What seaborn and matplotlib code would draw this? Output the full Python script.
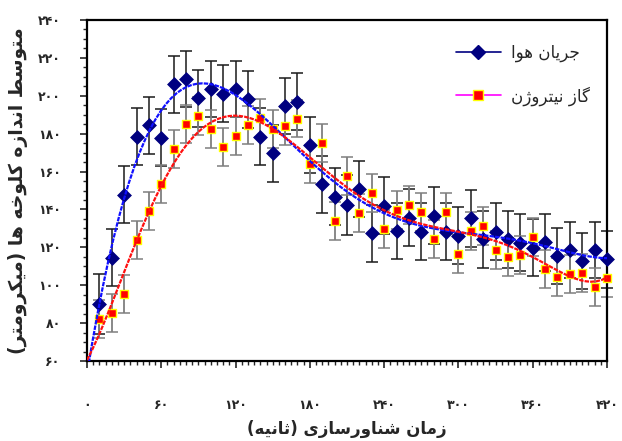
import matplotlib
matplotlib.use("Agg")
import matplotlib.pyplot as plt
from matplotlib.lines import Line2D
from matplotlib.ticker import MultipleLocator, FuncFormatter
import seaborn as sns

# ----------------------------------------------------------------------
# Data
# ----------------------------------------------------------------------
TIME = [10, 20, 30, 40, 50, 60, 70, 80, 90, 100, 110, 120, 130, 140,
        150, 160, 170, 180, 190, 200, 210, 220, 230, 240, 250, 260, 270, 280,
        290, 300, 310, 320, 330, 340, 350, 360, 370, 380, 390, 400, 410, 420]

AIR = [90, 114.5, 147.8, 178.4, 184.4, 177.9, 206.1, 208.9, 198.7, 203.6,
       201, 203.6, 198.1, 178.4, 169.6, 194.6, 196.9, 174, 153.3, 146.8,
       142.4, 150.8, 127.4, 142, 128.6, 135.7, 128.3, 136.6, 128.3, 126.2,
       135.3, 124.2, 128.3, 124.2, 122.5, 119.8, 122.6, 115.4, 118.6, 112.8,
       118.6, 113.7]
AIR_ERR = [16, 15, 15, 15, 15, 15, 15, 15, 15, 15, 15, 15, 15, 15,
           15, 15, 15, 15, 15, 15, 16, 15, 15, 15, 15, 15, 15, 15,
           15, 15, 15, 15, 15, 15, 15, 15, 15, 15, 15, 15, 15, 15]

N2 = [82, 85.5, 95.4, 123.7, 139.2, 153.5, 172.1, 185, 189.4, 182.3,
      172.8, 178.8, 184.4, 188.4, 182.6, 184.2, 188, 164, 175.3, 134.1,
      157.8, 138, 148.5, 129.7, 139.7, 142.2, 138.7, 124.6, 138.8, 116.3,
      128.6, 131.3, 118.6, 115, 116, 125.6, 108.6, 104.5, 105.8, 106.6,
      99.2, 104]
N2_ERR = [10, 10, 10, 10, 10, 10, 10, 10, 10, 10, 10, 10, 10, 10,
          10, 10, 10, 10, 10, 10, 10, 10, 10, 10, 10, 10, 10, 10,
          10, 10, 10, 10, 10, 10, 10, 10, 10, 10, 10, 10, 10, 10]

LABEL_AIR = "جریان هوا"
LABEL_N2 = "گاز نیتروژن"
XLABEL = "زمان شناورسازی (ثانیه)"
YLABEL = "متوسط اندازه کلوخه ها (میکرومتر)"

# ----------------------------------------------------------------------
# Minimal Persian shaping (matplotlib has no RTL / contextual forms)
# forms: isolated, final, initial, medial
# ----------------------------------------------------------------------
FORMS = {
    "ا": ("\uFE8D", "\uFE8E"),
    "د": ("\uFEA9", "\uFEAA"),
    "ر": ("\uFEAD", "\uFEAE"),
    "ز": ("\uFEAF", "\uFEB0"),
    "ژ": ("\uFB8A", "\uFB8B"),
    "و": ("\uFEED", "\uFEEE"),
    "ت": ("\uFE95", "\uFE96", "\uFE97", "\uFE98"),
    "ث": ("\uFE99", "\uFE9A", "\uFE9B", "\uFE9C"),
    "ج": ("\uFE9D", "\uFE9E", "\uFE9F", "\uFEA0"),
    "خ": ("\uFEA5", "\uFEA6", "\uFEA7", "\uFEA8"),
    "س": ("\uFEB1", "\uFEB2", "\uFEB3", "\uFEB4"),
    "ش": ("\uFEB5", "\uFEB6", "\uFEB7", "\uFEB8"),
    "ط": ("\uFEC1", "\uFEC2", "\uFEC3", "\uFEC4"),
    "ل": ("\uFEDD", "\uFEDE", "\uFEDF", "\uFEE0"),
    "م": ("\uFEE1", "\uFEE2", "\uFEE3", "\uFEE4"),
    "ن": ("\uFEE5", "\uFEE6", "\uFEE7", "\uFEE8"),
    "ه": ("\uFEE9", "\uFEEA", "\uFEEB", "\uFEEC"),
    "ک": ("\uFB8E", "\uFB8F", "\uFB90", "\uFB91"),
    "گ": ("\uFB92", "\uFB93", "\uFB94", "\uFB95"),
    "ی": ("\uFBFC", "\uFBFD", "\uFBFE", "\uFBFF"),
}
DUAL = {k for k, v in FORMS.items() if len(v) == 4}


def farsi(text):
    out = []
    for i, ch in enumerate(text):
        if ch not in FORMS:
            out.append(ch)
            continue
        prev = i > 0 and text[i - 1] in DUAL
        nxt = ch in DUAL and i + 1 < len(text) and text[i + 1] in FORMS
        f = FORMS[ch]
        if prev and nxt:
            out.append(f[3])
        elif prev:
            out.append(f[1])
        elif nxt:
            out.append(f[2])
        else:
            out.append(f[0])
    vis = "".join(reversed(out))
    return vis.translate(str.maketrans("()", ")("))


FA_DIGITS = str.maketrans("0123456789", "۰۱۲۳۴۵۶۷۸۹")
fa_fmt = FuncFormatter(lambda v, pos: f"{v:.0f}".translate(FA_DIGITS))

# ----------------------------------------------------------------------
# Plot
# ----------------------------------------------------------------------
sns.set_style("ticks")
plt.rcParams["font.family"] = ["DejaVu Sans"]

fig = plt.figure(figsize=(6.22, 4.41), dpi=100)
ax = fig.add_axes([0.1399, 0.1814, 0.836, 0.7732])
ax.set_xlim(0, 420)
ax.set_ylim(60, 240)

ax.errorbar(TIME, AIR, yerr=AIR_ERR, fmt="none", ecolor="#1a1a1a",
            elinewidth=1.1, capsize=4, capthick=1.1, zorder=2, clip_on=False)
ax.errorbar(TIME, N2, yerr=N2_ERR, fmt="none", ecolor="#7f7f7f",
            elinewidth=1.3, capsize=4, capthick=1.1, zorder=2, clip_on=False)

sns.scatterplot(x=TIME, y=AIR, marker="D", s=50, color="#000080",
                edgecolor="#000080", linewidth=0.5, ax=ax, zorder=3, clip_on=False)
sns.scatterplot(x=TIME, y=N2, marker="s", s=36, color="#ff0000",
                edgecolor="#ffff00", linewidth=1.0, ax=ax, zorder=4, clip_on=False)

# polynomial trend lines over the full axis range
sns.regplot(x=TIME, y=AIR, order=6, ci=None, scatter=False, truncate=False, ax=ax,
            line_kws=dict(color="#1010ff", lw=1.6, ls=(0, (2.0, 0.5)), zorder=5))
sns.regplot(x=TIME, y=N2, order=6, ci=None, scatter=False, truncate=False, ax=ax,
            line_kws=dict(color="#ff1010", lw=1.6, ls=(0, (2.0, 0.5)), zorder=5))
ax.set_xlim(0, 420)
ax.set_ylim(60, 240)

ax.xaxis.set_major_locator(MultipleLocator(60))
ax.xaxis.set_minor_locator(MultipleLocator(5))
ax.yaxis.set_major_locator(MultipleLocator(20))
ax.yaxis.set_minor_locator(MultipleLocator(5))
ax.xaxis.set_major_formatter(fa_fmt)
ax.yaxis.set_major_formatter(fa_fmt)
ax.tick_params(which="major", direction="out", length=5, width=1.2, labelsize=9)
ax.tick_params(which="minor", direction="out", length=3, width=1)
ax.tick_params(axis="x", pad=22)
ax.tick_params(axis="y", pad=14)
for lab in ax.get_xticklabels() + ax.get_yticklabels():
    lab.set_fontweight("bold")

for side in ["top", "right", "left", "bottom"]:
    ax.spines[side].set_visible(True)
    ax.spines[side].set_color("black")
    ax.spines[side].set_linewidth(1.6)

ax.set_xlabel(farsi(XLABEL), fontsize=12, fontweight="bold", labelpad=6)
ax.set_ylabel(farsi(YLABEL), fontsize=13.5, fontweight="bold", labelpad=7)

handles = [
    Line2D([], [], color="#000080", lw=1.2, marker="D", markersize=7,
           markerfacecolor="#000080", markeredgecolor="#000080"),
    Line2D([], [], color="#ff00ff", lw=1.2, marker="s", markersize=6.5,
           markerfacecolor="#ff0000", markeredgecolor="#ffff00", markeredgewidth=1),
]
ax.legend(handles, [farsi(LABEL_AIR), farsi(LABEL_N2)], loc="upper left",
          bbox_to_anchor=(0.68, 0.975), frameon=False, fontsize=12,
          handlelength=2.7, handletextpad=0.6, labelspacing=1.45)

fig.savefig("out.png", dpi=100)
